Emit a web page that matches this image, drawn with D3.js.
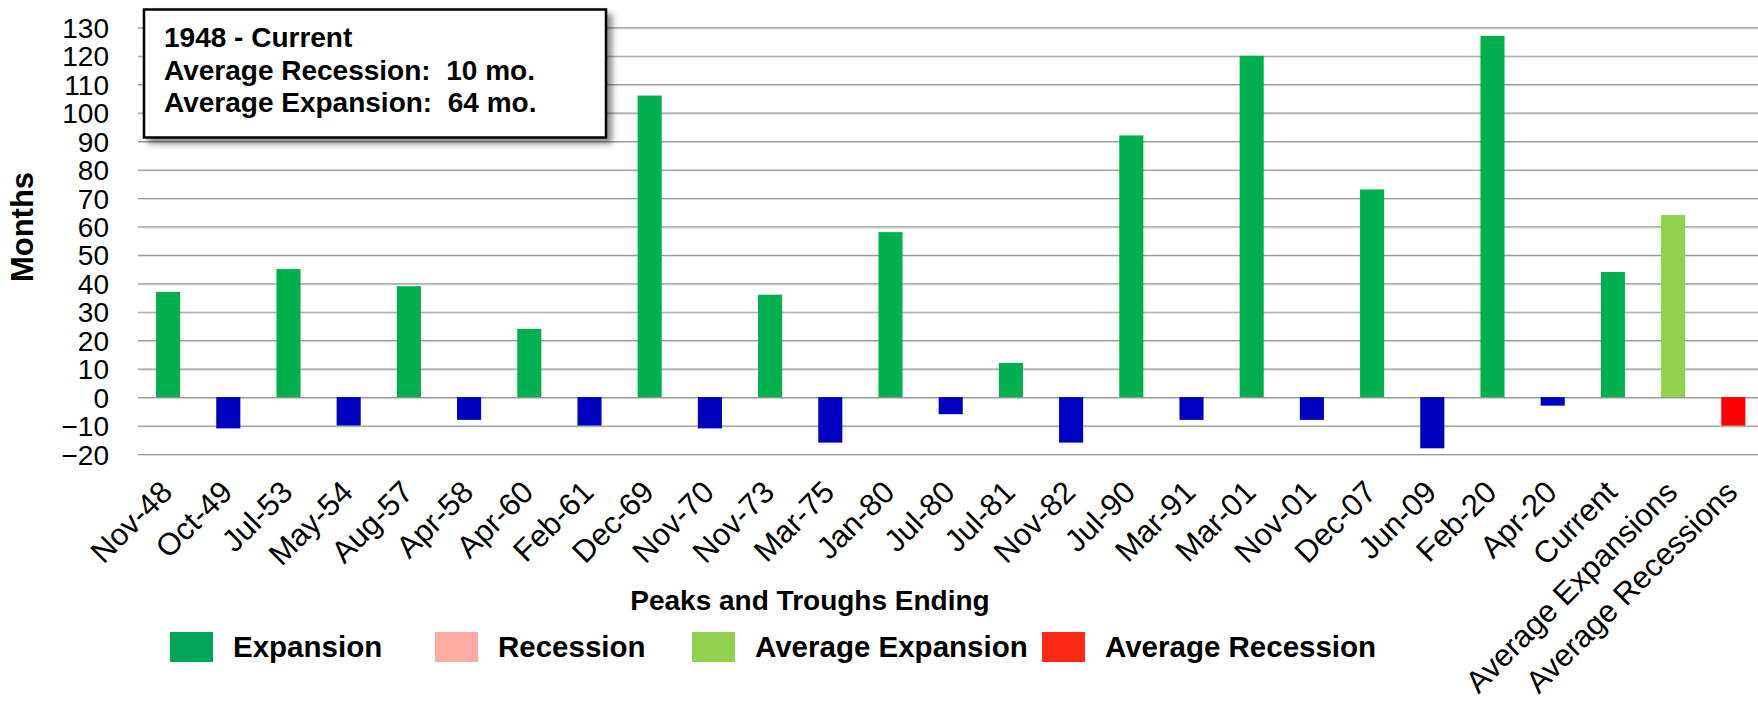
<!DOCTYPE html>
<html>
<head>
<meta charset="utf-8">
<script src="https://cdn.jsdelivr.net/npm/d3@7"></script>
<style>
  html, body { margin: 0; padding: 0; background: #fff; }
  svg { display: block; font-family: "Liberation Sans", Arial, sans-serif; }
  text { white-space: pre; }
</style>
</head>
<body>
<svg id="chart" width="1758" height="702"></svg>
<script>
// Business-cycle durations since 1948 (months): expansions positive, recessions negative
const categories = ["Nov-48","Oct-49","Jul-53","May-54","Aug-57","Apr-58","Apr-60","Feb-61","Dec-69","Nov-70",
  "Nov-73","Mar-75","Jan-80","Jul-80","Jul-81","Nov-82","Jul-90","Mar-91","Mar-01","Nov-01",
  "Dec-07","Jun-09","Feb-20","Apr-20","Current","Average Expansions","Average Recessions"];
const months = [37,-11,45,-10,39,-8,24,-10,106,-11,
  36,-16,58,-6,12,-16,92,-8,120,-8,
  73,-18,127,-3,44,64,-10];
const kinds = ["exp","rec","exp","rec","exp","rec","exp","rec","exp","rec",
  "exp","rec","exp","rec","exp","rec","exp","rec","exp","rec",
  "exp","rec","exp","rec","exp","avgExp","avgRec"];
const yTicks = [-20,-10,0,10,20,30,40,50,60,70,80,90,100,110,120,130];
const legendLabels = ["Expansion","Recession","Average Expansion","Average Recession"];
const summaryLines = ["1948 - Current","Average Recession:  10 mo.","Average Expansion:  64 mo."];

const barColor = { exp: "#00B050", rec: "#0000C0", avgExp: "#92D050", avgRec: "#FF0000" };
const legendColor = ["#00A55A", "#FFABA3", "#92D050", "#FF2A14"];

const svg = d3.select("#chart");

const x = d3.scaleBand().domain(categories).range([138, 1763.4]).paddingInner(0.6).paddingOuter(0.3);
const y = d3.scaleLinear().domain([-20, 130]).range([454, 27.3]);

// gridlines (dark line with a faint light line underneath)
const grid = svg.append("g");
grid.selectAll("line.g2").data(yTicks).join("line")
  .attr("x1", 138).attr("x2", 1758)
  .attr("y1", d => y(d) + 1.5).attr("y2", d => y(d) + 1.5)
  .attr("stroke", "#dedede").attr("stroke-width", 1);
grid.selectAll("line.g1").data(yTicks).join("line")
  .attr("x1", 138).attr("x2", 1758)
  .attr("y1", d => y(d) + 0.5).attr("y2", d => y(d) + 0.5)
  .attr("stroke", "#9a9a9a").attr("stroke-width", 1.2);

// y axis tick labels
const yAxis = d3.axisLeft(y).tickValues(yTicks).tickSize(0).tickPadding(0);
const ya = svg.append("g").attr("transform", "translate(109,0)").call(yAxis);
ya.select(".domain").remove();
ya.selectAll("text").attr("font-size", 28).attr("fill", "#000")
  .attr("font-family", "'Liberation Sans', Arial, sans-serif").attr("dy", "0.36em");

// bars
svg.append("g").selectAll("rect").data(categories).join("rect")
  .attr("x", d => x(d))
  .attr("width", x.bandwidth())
  .attr("y", (d, i) => Math.min(y(0), y(months[i])))
  .attr("height", (d, i) => Math.abs(y(months[i]) - y(0)))
  .attr("fill", (d, i) => barColor[kinds[i]]);

// x axis labels, rotated
const xAxis = d3.axisBottom(x).tickSize(0).tickPadding(0);
const xa = svg.append("g").call(xAxis);
xa.select(".domain").remove();
xa.selectAll(".tick").attr("transform", d => `translate(${x(d) + x.bandwidth() / 2 + 6},494)`);
xa.selectAll("text")
  .attr("font-size", 31).attr("fill", "#000")
  .attr("font-family", "'Liberation Sans', Arial, sans-serif")
  .attr("y", 0).attr("dy", 0)
  .attr("text-anchor", "end")
  .attr("transform", "rotate(-45)");

// axis titles
svg.append("text").attr("transform", "translate(33,227) rotate(-90)")
  .attr("text-anchor", "middle").attr("font-weight", "bold").attr("font-size", 31)
  .text("Months");
svg.append("text").attr("x", 810).attr("y", 610)
  .attr("text-anchor", "middle").attr("font-weight", "bold").attr("font-size", 28)
  .text("Peaks and Troughs Ending");

// legend
const legendX = [170, 435, 692, 1042];
const lg = svg.append("g").selectAll("g").data(legendLabels).join("g")
  .attr("transform", (d, i) => `translate(${legendX[i]},632)`);
lg.append("rect").attr("width", 43).attr("height", 30).attr("fill", (d, i) => legendColor[i]);
lg.append("text").attr("x", 63).attr("y", 25)
  .attr("font-weight", "bold").attr("font-size", 29.5).text(d => d);

// summary box with drop shadow
const defs = svg.append("defs");
const f = defs.append("filter").attr("id", "shadow").attr("x", "-10%").attr("y", "-20%")
  .attr("width", "130%").attr("height", "150%");
f.append("feDropShadow").attr("dx", 5).attr("dy", 5).attr("stdDeviation", 3)
  .attr("flood-color", "#000").attr("flood-opacity", 0.45);
svg.append("rect").attr("x", 144).attr("y", 9.5).attr("width", 462).attr("height", 128)
  .attr("fill", "#fff").attr("stroke", "#000").attr("stroke-width", 2.5)
  .attr("filter", "url(#shadow)");
svg.append("g").selectAll("text").data(summaryLines).join("text")
  .attr("x", 164).attr("y", (d, i) => 47 + i * 32.5)
  .attr("font-weight", "bold").attr("font-size", 28)
  .text(d => d);
</script>
</body>
</html>
